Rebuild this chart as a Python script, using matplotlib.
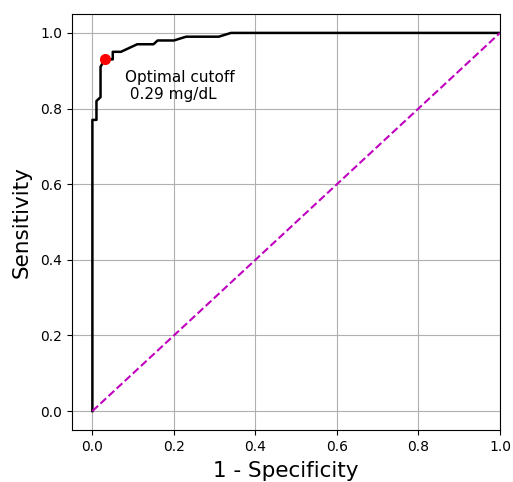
import matplotlib
matplotlib.use('Agg')
import matplotlib.pyplot as plt

# ROC curve points
fpr = [0.0, 0.0, 0.01, 0.01, 0.02, 0.02, 0.03, 0.05, 0.05, 0.07, 0.11, 0.15, 0.16, 0.20, 0.23, 0.31, 0.34, 1.0]
tpr = [0.0, 0.77, 0.77, 0.82, 0.83, 0.91, 0.93, 0.93, 0.95, 0.95, 0.97, 0.97, 0.98, 0.98, 0.99, 0.99, 1.0, 1.0]
opt_fpr = 0.03
opt_tpr = 0.93
cutoff_label = 'Optimal cutoff\n 0.29 mg/dL'

fig = plt.figure(figsize=(5.13, 4.82), dpi=100)
ax = fig.add_axes([72 / 513, 52 / 482, 428 / 513, 416 / 482])
ax.plot(fpr, tpr, color='black', linewidth=1.8)
ax.plot([0, 1], [0, 1], 'm--', linewidth=1.5)
ax.plot(opt_fpr, opt_tpr, 'ro', markersize=7)
ax.text(0.08, 0.86, cutoff_label, fontsize=11, va='center')
ax.set_xlim(-0.05, 1.0)
ax.set_ylim(-0.05, 1.05)
ax.set_xlabel('1 - Specificity', fontsize=15.5, labelpad=5)
ax.set_ylabel('Sensitivity', fontsize=15.5, labelpad=6)
ax.grid(True, color='#b0b0b0')
ax.set_axisbelow(True)
fig.savefig('out.png', dpi=100)
